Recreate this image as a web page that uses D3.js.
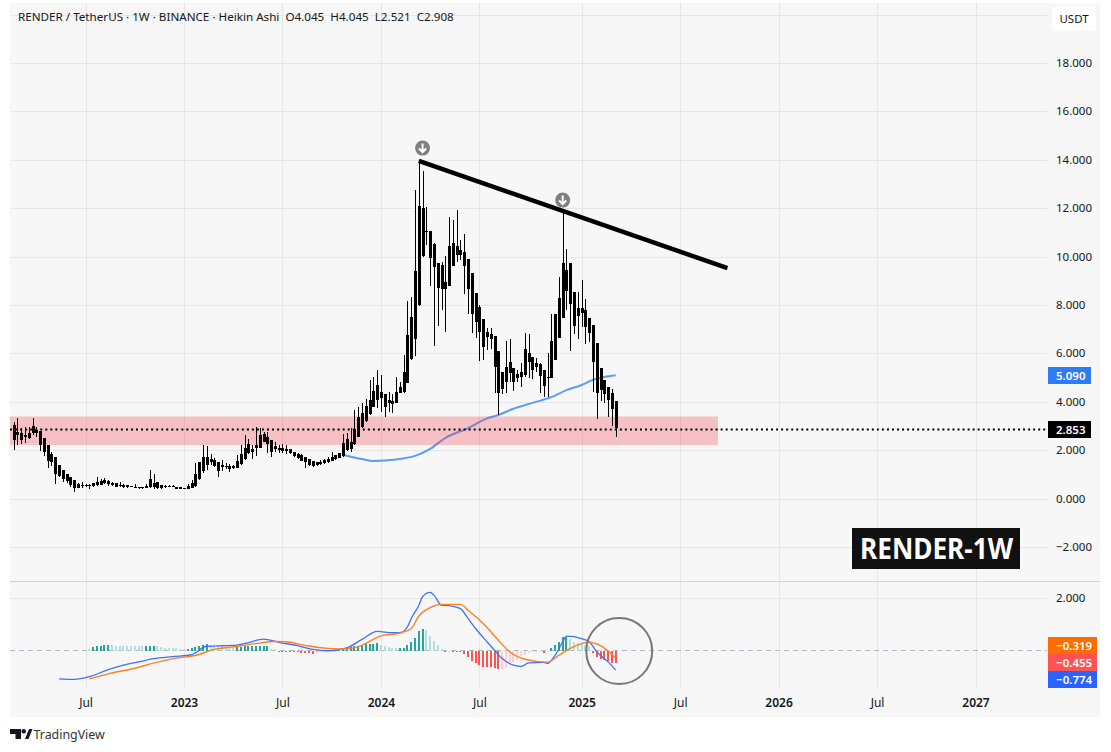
<!DOCTYPE html>
<html>
<head>
<meta charset="utf-8">
<script src="https://cdn.jsdelivr.net/npm/d3@7"></script>
<style>
    html, body { margin: 0; padding: 0; background: #fff; }
    svg { display: block; font-family: 'Noto Sans', sans-serif; }
    .tick text { fill: #131722; }
</style>
</head>
<body>
<svg id="chart" width="1111" height="752"></svg>
<script>
// weekly Heikin Ashi bars, all drawn black so only body top and bottom matter
const firstWeek = '2022-02-21';
const bodyHigh = [
    3.04,2.76,2.72,2.62,2.72,3.00,2.83,2.80,2.49,2.21,
    1.84,1.70,1.38,1.18,1.01,.87,.76,.60,.56,.56,
    .54,.63,.68,.72,.76,.72,.65,.63,.56,.57,
    .54,.50,.49,.46,.46,.52,.81,.65,.67,.54,
    .53,.52,.52,.48,.46,.42,.52,.63,1.01,1.49,
    1.70,1.70,1.62,1.59,1.49,1.38,1.36,1.33,1.33,1.55,
    1.84,2.07,2.25,2.05,2.21,2.62,2.67,2.53,2.42,2.17,
    2.10,2.07,2.05,2.03,1.94,1.84,1.78,1.70,1.62,1.54,
    1.51,1.49,1.59,1.62,1.73,1.78,1.87,2.28,2.46,2.35,
    2.86,3.38,3.52,3.82,4.07,4.44,4.69,4.40,4.32,4.06,
    4.03,4.40,4.61,5.21,6.76,7.50,9.40,12.09,11.99,11.05,
    11.05,10.52,9.72,9.65,8.95,10.43,10.57,10.43,10.27,10.19,
    9.90,9.32,8.48,7.93,7.40,6.89,6.80,6.71,6.10,5.23,
    5.42,5.64,5.38,5.14,5.24,6.18,6.00,5.85,5.61,5.54,
    5.31,5.03,6.51,7.62,8.30,9.72,9.44,9.72,8.53,7.89,
    7.86,7.79,7.47,7.17,6.41,5.39,4.90,4.62,4.37,4.045
];
const bodyLow = [
    2.42,2.62,2.42,2.53,2.49,2.69,2.69,2.21,1.94,1.55,
    1.49,1.01,.93,.79,.74,.56,.42,.45,.53,.53,
    .52,.50,.54,.57,.64,.59,.56,.49,.53,.46,
    .46,.48,.48,.42,.43,.45,.48,.49,.43,.42,
    .48,.49,.49,.41,.41,.39,.41,.45,.52,.79,
    1.15,1.38,1.52,1.34,1.15,1.29,1.33,1.21,1.27,1.27,
    1.41,1.62,1.87,1.94,2.07,2.10,2.35,2.25,1.94,2.05,
    2.00,1.98,1.96,1.87,1.76,1.69,1.56,1.52,1.38,1.34,
    1.38,1.43,1.45,1.51,1.56,1.63,1.69,1.76,2.00,2.03,
    2.25,2.56,2.94,3.22,3.49,3.79,4.07,4.14,3.79,3.93,
    3.92,3.96,4.37,4.39,4.79,5.78,6.59,8.01,10.03,11.03,
    9.95,9.58,8.68,8.64,8.67,8.79,9.61,10.06,10.06,9.61,
    8.66,7.62,7.31,6.88,6.27,6.69,6.60,5.45,4.35,4.52,
    4.83,5.17,4.83,4.99,5.03,5.10,5.65,5.31,5.45,5.06,
    4.65,4.99,4.99,5.72,6.63,7.47,8.59,8.04,7.13,7.56,
    7.65,7.10,6.83,5.65,4.35,4.48,4.32,4.07,3.70,2.908
];
const high = [
    3.17,3.34,2.90,2.94,2.97,3.34,2.94,2.80,2.49,2.21,
    1.94,1.70,1.38,1.18,1.01,.87,.76,.63,.70,.60,
    .60,.65,.87,.82,.83,.76,.68,.65,.68,.60,
    .57,.52,.60,.48,.49,.59,1.18,1.00,.70,.56,
    .56,.56,.56,.49,.48,.43,.59,.76,1.45,1.49,
    2.21,2.17,1.84,1.66,1.52,1.59,1.45,1.43,1.38,1.80,
    2.21,2.62,2.44,2.21,2.94,2.90,2.76,2.76,2.42,2.35,
    2.21,2.25,2.21,2.03,1.94,1.89,1.84,1.70,1.62,1.55,
    1.52,1.59,1.65,1.73,1.94,1.81,1.89,2.67,2.69,2.90,
    3.66,3.79,3.93,4.10,4.90,5.01,5.31,5.10,4.32,4.41,
    4.32,5.01,4.83,5.93,8.16,8.31,12.75,13.96,13.55,12.05,
    11.05,10.54,9.75,9.79,10.02,11.62,11.51,11.92,10.68,10.92,
    9.90,9.32,8.48,8.00,7.40,7.06,7.03,6.71,6.10,5.23,
    6.51,6.59,5.38,5.31,5.59,6.83,6.80,5.85,5.79,5.61,
    5.31,6.00,7.62,7.62,9.14,11.81,10.30,9.72,8.53,8.53,
    9.03,8.23,7.47,7.17,6.41,5.39,4.90,4.62,4.51,4.045
];
const low = [
    2.00,2.21,2.25,2.28,2.44,2.62,2.55,1.96,1.76,1.25,
    1.34,.60,.87,.70,.65,.49,.28,.42,.45,.48,
    .41,.49,.52,.54,.61,.53,.52,.48,.46,.45,
    .45,.46,.43,.39,.41,.42,.43,.41,.41,.39,
    .42,.46,.46,.39,.39,.39,.39,.42,.49,.76,
    1.07,1.18,1.38,1.29,.90,1.15,1.21,1.11,1.22,1.25,
    1.38,1.59,1.84,1.65,1.76,2.07,2.32,1.87,1.73,1.92,
    1.87,1.89,1.84,1.84,1.73,1.62,1.55,1.26,1.36,1.32,
    1.34,1.37,1.43,1.45,1.53,1.59,1.66,1.73,1.98,1.94,
    2.21,2.53,2.90,3.17,3.45,3.77,3.73,3.59,3.38,3.59,
    3.52,3.93,4.35,4.35,4.76,5.72,5.90,7.97,9.99,10.47,
    8.78,6.32,7.13,7.79,6.88,8.79,9.61,9.77,9.86,8.45,
    7.62,6.85,6.63,5.68,5.72,6.14,6.19,4.35,3.44,4.32,
    4.35,4.83,4.46,4.83,4.62,5.03,4.97,4.92,5.24,4.37,
    4.21,4.18,4.97,5.72,6.63,7.47,7.79,6.10,6.80,6.59,
    7.10,6.38,6.45,4.41,3.30,4.04,3.93,3.38,3.00,2.521
];

// moving average on the price pane, read at these week numbers
const maWeeks = [87,92,95,101,106,110,114,120,125,128,132,137,142,146,150,153,156,159];
const maValues = [1.80,1.63,1.55,1.61,1.76,2.05,2.50,2.91,3.31,3.45,3.71,3.95,4.19,4.48,4.69,4.90,5.02,5.09];

// MACD pane
const histStart = 20;
const histogram = [
    .075,.126,.164,.176,.201,.208,.189,.176,.170,.167,
    .165,.164,.163,.162,.161,.176,.180,.184,.151,.126,
    .113,.101,.098,.088,.075,.063,.075,.088,.126,.176,
    .214,.239,.201,.176,.164,.151,.138,.126,.113,.126,
    .138,.151,.153,.155,.156,.157,.158,.160,.075,.050,
    -.025,-.026,-.027,-.038,-.040,-.075,-.101,-.103,-.113,-.138,
    -.088,-.075,-.063,-.050,-.038,-.013,.010,.088,.101,.126,
    .151,.176,.201,.239,.252,.264,.277,.226,.164,.126,
    .101,.088,.090,.113,.226,.302,.478,.730,.805,.755,
    .566,.377,.226,.063,-.050,-.013,-.025,-.026,-.038,-.126,
    -.252,-.403,-.465,-.541,-.604,-.616,-.617,-.642,-.692,-.690,
    -.667,-.528,-.428,-.377,-.226,-.151,-.101,-.075,-.063,-.050,
    -.088,-.050,.088,.201,.327,.503,.528,.440,.327,.277,
    .252,.214,.151,-.113,-.252,-.302,-.352,-.403,-.453,-.455
];
const macdWeeks = [12,16,20,25,29,33,37,42,47,51,55,58,62,66,70,75,79,83,88,92,96,100,102,104,105,107,108,110,111,113,115,118,120,122,125,127,129,132,134,136,140,141,143,145,146,150,152,154,157,159];
const macdValues = [-1.07,-1.09,-.99,-.72,-.55,-.43,-.31,-.23,-.16,.16,.18,.19,.30,.43,.31,.18,.04,-.01,.10,.42,.72,.67,.67,.89,1.21,1.70,2.03,2.19,2.09,1.71,1.69,1.58,1.21,.83,.33,.01,-.30,-.55,-.60,-.47,-.45,-.49,-.18,.33,.54,.45,.33,-.05,-.43,-.74];
const signalWeeks = [20,25,32,38,43,48,53,58,64,69,72,77,83,88,92,97,102,105,107,110,113,118,120,124,128,131,135,141,144,147,150,152,155,159];
const signalValues = [-1.07,-.88,-.67,-.44,-.29,-.19,.04,.14,.26,.34,.33,.19,.08,.06,.20,.55,.66,.83,1.30,1.62,1.74,1.74,1.52,1.02,.39,-.05,-.33,-.44,-.18,.08,.26,.31,.18,-.28];

// time axis
const tickDates = ['2022-07-04','2023-01-02','2023-07-03','2024-01-01','2024-07-01','2025-01-06','2025-07-07','2026-01-05','2026-07-06','2027-01-04'];
const tickLabels = ['Jul','2023','Jul','2024','Jul','2025','Jul','2026','Jul','2027'];
const priceTicks = [-2,0,2,4,6,8,10,12,14,16,18];
const priceGrid = [-2,0,2,4,6,8,10,12,14,16,18,20];
const macdTicks = [2];

// drawing annotations
const zone = [2.21, 3.39];
const zoneEndWeek = 186;
const lastPrice = 2.853;
const trendWeeks = [107, 188.5];
const trendValues = [13.95, 9.52];
const arrowWeeks = [108, 145];
const arrowValues = [14.48, 12.33];
const circleWeek = 159;
const macdTags = [
    { label: '\u22120.319', color: '#ff6d00' },
    { label: '\u22120.455', color: '#ff5252' },
    { label: '\u22120.774', color: '#2962ff' },
];

const WEEK = 7 * 24 * 3600 * 1000;
const parse = d3.utcParse('%Y-%m-%d');
const weekDate = (k) => new Date(parse(firstWeek).getTime() + k * WEEK);

const left = 10, gridRight = 1047, panelRight = 1100, panelTop = 3, panelBottom = 717;
const gridBottom = 689, paneLine = 581, labelX = 1056;

const x = d3.scaleUtc().domain([parse('2023-01-02'), parse('2027-01-04')]).range([184, 975.5]);
const y = d3.scaleLinear().domain([0, 18]).range([498.5, 62.9]);
const yMacd = d3.scaleLinear().domain([0, 2]).range([650.5, 597.5]);
const xw = (k) => x(weekDate(k));

const svg = d3.select('#chart');
svg.append('rect')
    .attr('x', left).attr('y', panelTop)
    .attr('width', panelRight - left).attr('height', panelBottom - panelTop)
    .attr('fill', '#f7f7f7');

// grid
const gridColor = '#e6e6e6';
const xDates = tickDates.map(parse);
const xGrid = svg.append('g')
    .attr('transform', `translate(0,${gridBottom})`)
    .call(d3.axisBottom(x).tickValues(xDates).tickSize(-(gridBottom - panelTop)).tickFormat(''));
xGrid.select('.domain').remove();
xGrid.selectAll('line').attr('stroke', gridColor).attr('shape-rendering', 'crispEdges');

function yGrid(scale, values) {
    const g = svg.append('g')
        .attr('transform', `translate(${gridRight},0)`)
        .call(d3.axisLeft(scale).tickValues(values).tickSize(gridRight - left).tickFormat(''));
    g.select('.domain').remove();
    g.selectAll('line').attr('stroke', gridColor).attr('shape-rendering', 'crispEdges');
}
yGrid(y, priceGrid);
yGrid(yMacd, macdTicks);

svg.append('line')
    .attr('x1', left).attr('x2', panelRight)
    .attr('y1', paneLine + 0.5).attr('y2', paneLine + 0.5)
    .attr('stroke', '#d1d4dc');

// moving average goes under the zone, candles over it
const maLine = d3.line().x((d) => xw(d[0])).y((d) => y(d[1])).curve(d3.curveMonotoneX);
svg.append('path')
    .attr('d', maLine(d3.zip(maWeeks, maValues)))
    .attr('fill', 'none').attr('stroke', '#5b9cf6').attr('stroke-width', 2);

svg.append('rect')
    .attr('x', left).attr('width', xw(zoneEndWeek) - left)
    .attr('y', y(zone[1])).attr('height', y(zone[0]) - y(zone[1]))
    .attr('fill', '#f23645').attr('fill-opacity', 0.28);

const bars = d3.range(high.length);
const candles = svg.append('g').attr('shape-rendering', 'crispEdges');
candles.selectAll('.wick').data(bars).enter().append('line')
    .attr('class', 'wick')
    .attr('x1', (k) => Math.round(xw(k)) + 0.5)
    .attr('x2', (k) => Math.round(xw(k)) + 0.5)
    .attr('y1', (k) => y(high[k]))
    .attr('y2', (k) => y(low[k]))
    .attr('stroke', '#000');
candles.selectAll('.body').data(bars).enter().append('rect')
    .attr('class', 'body')
    .attr('x', (k) => Math.round(xw(k)) - 1)
    .attr('width', 3)
    .attr('y', (k) => y(bodyHigh[k]))
    .attr('height', (k) => Math.max(1, y(bodyLow[k]) - y(bodyHigh[k])))
    .attr('fill', '#000');

// last price dotted line
svg.append('line')
    .attr('x1', left).attr('x2', gridRight)
    .attr('y1', y(lastPrice)).attr('y2', y(lastPrice))
    .attr('stroke', '#000').attr('stroke-width', 2).attr('stroke-dasharray', '2,3.04');

// trend line and the two arrows
svg.append('line')
    .attr('x1', xw(trendWeeks[0])).attr('x2', xw(trendWeeks[1]))
    .attr('y1', y(trendValues[0])).attr('y2', y(trendValues[1]))
    .attr('stroke', '#000').attr('stroke-width', 4.5);

const arrows = svg.selectAll('.arrow').data(d3.zip(arrowWeeks, arrowValues)).enter().append('g')
    .attr('class', 'arrow')
    .attr('transform', (d) => `translate(${xw(d[0])},${y(d[1])})`);
arrows.append('circle').attr('r', 7.5).attr('fill', '#808080');
arrows.append('path')
    .attr('d', 'M0,-4.5V4M-3.6,0.4L0,4L3.6,0.4')
    .attr('fill', 'none').attr('stroke', '#fff').attr('stroke-width', 2);

// MACD pane
svg.append('line')
    .attr('x1', left).attr('x2', gridRight)
    .attr('y1', yMacd(0)).attr('y2', yMacd(0))
    .attr('stroke', '#b2b5be').attr('stroke-dasharray', '5,4');

function histColor(v, i) {
    const prev = i > 0 ? histogram[i - 1] : Infinity;
    if (v >= 0) return v > prev ? '#26a69a' : '#b2dfdb';
    return v < prev ? '#ff5252' : '#ffcdd2';
}
svg.append('g').attr('shape-rendering', 'crispEdges')
    .selectAll('rect').data(histogram).enter().append('rect')
    .attr('x', (v, i) => Math.round(xw(histStart + i)) - 1)
    .attr('width', 2)
    .attr('y', (v) => Math.min(yMacd(0), yMacd(v)))
    .attr('height', (v) => Math.max(1, Math.abs(yMacd(v) - yMacd(0))))
    .attr('fill', histColor);

const macdLine = d3.line().x((d) => xw(d[0])).y((d) => yMacd(d[1])).curve(d3.curveMonotoneX);
svg.append('path')
    .attr('d', macdLine(d3.zip(macdWeeks, macdValues)))
    .attr('fill', 'none').attr('stroke', '#3f72f5').attr('stroke-width', 1.3);
svg.append('path')
    .attr('d', macdLine(d3.zip(signalWeeks, signalValues)))
    .attr('fill', 'none').attr('stroke', '#ff7f24').attr('stroke-width', 1.4);

svg.append('circle')
    .attr('cx', xw(circleWeek) + 3.5).attr('cy', yMacd(0) + 0.5).attr('r', 33)
    .attr('fill', 'none').attr('stroke', '#777').attr('stroke-width', 2);

// axes text, left aligned like the price scale of the original
function rightAxis(scale, values) {
    const g = svg.append('g')
        .attr('transform', `translate(${labelX},0)`)
        .call(d3.axisRight(scale).tickValues(values).tickSize(0).tickPadding(0).tickFormat(d3.format('.3f')));
    g.select('.domain').remove();
    g.selectAll('text').attr('font-size', 11.5).attr('font-family', "'Noto Sans', sans-serif");
}
rightAxis(y, priceTicks);
rightAxis(yMacd, macdTicks);

const xAxis = svg.append('g')
    .attr('transform', 'translate(0,698)')
    .call(d3.axisBottom(x).tickValues(xDates).tickSize(0).tickPadding(0)
        .tickFormat((d, i) => tickLabels[i]));
xAxis.select('.domain').remove();
xAxis.selectAll('text')
    .attr('font-size', 12).attr('font-family', "'Noto Sans', sans-serif")
    .attr('font-weight', (d, i) => (tickLabels[i] === 'Jul' ? 400 : 600));

// price tags
function tag(x0, x1, y0, y1, color, label) {
    svg.append('rect').attr('x', x0).attr('y', y0).attr('width', x1 - x0).attr('height', y1 - y0).attr('fill', color);
    svg.append('text')
        .attr('x', labelX).attr('y', (y0 + y1) / 2 + 4)
        .attr('font-size', 11.5).attr('font-weight', 600)
        .attr('fill', '#fff').text(label);
}
tag(1048, 1091, 367, 384, '#2f7bf6', d3.format('.3f')(maValues[maValues.length - 1]));
tag(1048, 1091, 421, 438, '#000', d3.format('.3f')(lastPrice));
macdTags.forEach((t, i) => tag(1048, 1097, 637 + i * 17, 654 + i * 17, t.color, t.label));

// header
svg.append('text')
    .attr('x', 18).attr('y', 21)
    .attr('font-size', 11.65).attr('fill', '#131722')
    .attr('xml:space', 'preserve')
    .text('RENDER / TetherUS \u00b7 1W \u00b7 BINANCE \u00b7 Heikin Ashi  O4.045  H4.045  L2.521  C2.908');

svg.append('rect')
    .attr('x', 1052).attr('y', 7).attr('width', 44).attr('height', 24).attr('rx', 3)
    .attr('fill', '#fff');
svg.append('text')
    .attr('x', 1074).attr('y', 23).attr('text-anchor', 'middle')
    .attr('font-size', 11.5).attr('fill', '#131722').text('USDT');

// chart title box
svg.append('rect')
    .attr('x', 852).attr('y', 528).attr('width', 168).attr('height', 41).attr('fill', '#111');
svg.append('text')
    .attr('x', 860).attr('y', 558.5)
    .attr('textLength', 153).attr('lengthAdjust', 'spacingAndGlyphs')
    .attr('font-size', 29).attr('font-weight', 700).attr('fill', '#fff').text('RENDER-1W');

// footer logo
svg.append('path')
    .attr('d', 'M10,729H21V739H15.5V734H10ZM25,739L29,729H32.5L28.5,739ZM23.7,729a2.3,2.3 0 1,1 -0.01,0Z')
    .attr('fill', '#131722');
svg.append('text')
    .attr('x', 33.5).attr('y', 739)
    .attr('font-size', 12.4).attr('fill', '#333').text('TradingView');
</script>
</body>
</html>
